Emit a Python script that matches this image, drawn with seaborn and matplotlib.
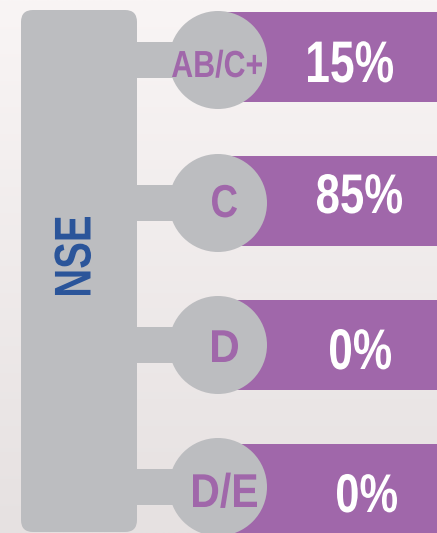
import numpy as np
import pandas as pd
import matplotlib
matplotlib.use("Agg")
import matplotlib.pyplot as plt
from matplotlib.patches import FancyBboxPatch, Circle, Rectangle, PathPatch
from matplotlib.textpath import TextPath
from matplotlib.font_manager import FontProperties
from matplotlib.transforms import Affine2D
import seaborn as sns

# ---- data ----
group_label = "NSE"
categories = ["AB/C+", "C", "D", "D/E"]
shares = [15, 85, 0, 0]
full_scale = [100, 100, 100, 100]

# ---- style ----
sns.set_theme(style="white")
FONT = ["Liberation Sans", "DejaVu Sans"]
plt.rcParams["font.family"] = FONT
PROP = FontProperties(family="Liberation Sans", weight="bold")
CAP = 0.716

PURPLE = "#a067aa"
GRAY = "#bcbdc0"
BLUE = "#2b559a"

W, H = 437, 533
fig = plt.figure(figsize=(W / 100, H / 100), dpi=100)

# background gradient
bg = fig.add_axes([0, 0, 1, 1], zorder=0)
grad = np.linspace(0, 1, 256).reshape(-1, 1)
top = np.array(matplotlib.colors.to_rgb("#f9f5f5"))
bot = np.array(matplotlib.colors.to_rgb("#e6e1e1"))
img = top[None, None, :] * (1 - grad[..., None]) + bot[None, None, :] * grad[..., None]
bg.imshow(img, aspect="auto", extent=[0, 1, 0, 1], origin="upper")
bg.set_axis_off()

# layout (pixels)
row_y = [60, 203, 345, 487]
circle_x, circle_r = 218, 49
bar_left = 218
bar_first, bar_pitch = 56.75, 144.0

# bars (seaborn) in their own axes
bar_ax = fig.add_axes([bar_left / W, 0, (W - bar_left) / W, 1], zorder=1)
df = pd.DataFrame({"category": categories, "track": full_scale, "share": shares})
sns.barplot(data=df, x="track", y="category", orient="h", color=PURPLE,
            saturation=1, width=90 / bar_pitch, ax=bar_ax, edgecolor="none")
top_units = -bar_first / bar_pitch
bar_ax.set_ylim(top_units + H / bar_pitch, top_units)
bar_ax.set_xlim(0, 100)
bar_ax.set_axis_off()
bar_ax.patch.set_alpha(0)

# overlay in pixel coords (y down)
ov = fig.add_axes([0, 0, 1, 1], zorder=2)
ov.set_xlim(0, W)
ov.set_ylim(H, 0)
ov.set_axis_off()
ov.patch.set_alpha(0)

ov.add_patch(FancyBboxPatch((21, 10), 116, 522,
                            boxstyle="round,pad=0,rounding_size=12",
                            fc=GRAY, ec="none"))
for y in row_y:
    ov.add_patch(Rectangle((130, y - 18), 60, 36, fc=GRAY, ec="none"))
    ov.add_patch(Circle((circle_x, y), circle_r, fc=GRAY, ec="none"))


def narrow_text(ax, s, x, y, cap_px, ink_w, color, rotate=False):
    """Draw condensed bold text: centred on x; baseline at y (or centred if rotate)."""
    em = cap_px / CAP
    tp = TextPath((0, 0), s, size=em, prop=PROP)
    ext = tp.get_extents()
    sx = ink_w / ext.width
    cx = (ext.x0 + ext.x1) / 2
    t = Affine2D().translate(-cx, 0)
    if rotate:
        t = t.translate(0, -cap_px / 2).scale(sx, 1).rotate_deg(90)
    else:
        t = t.scale(sx, 1)
    t = t.scale(1, -1).translate(x, y)
    path = t.transform_path(tp)
    ax.add_patch(PathPatch(path, fc=color, ec="none", lw=0))


narrow_text(ov, group_label, 72, 256, 37, 78, BLUE, rotate=True)

label_x = [217, 224.5, 225, 225]
label_base = [77, 217, 362, 507]
label_cap = [27, 33, 33, 34]
label_w = [90, 25, 26, 64]
pct_x = [350.5, 359.5, 360.5, 367]
pct_base = [82, 213, 369, 512]
pct_cap = [42, 40, 41, 39]
pct_w = [85, 85, 61, 60]
for i, (cat, val) in enumerate(zip(categories, shares)):
    narrow_text(ov, cat, label_x[i], label_base[i], label_cap[i], label_w[i], PURPLE)
    narrow_text(ov, f"{val}%", pct_x[i], pct_base[i], pct_cap[i], pct_w[i], "white")

fig.savefig("out.png", dpi=100)
